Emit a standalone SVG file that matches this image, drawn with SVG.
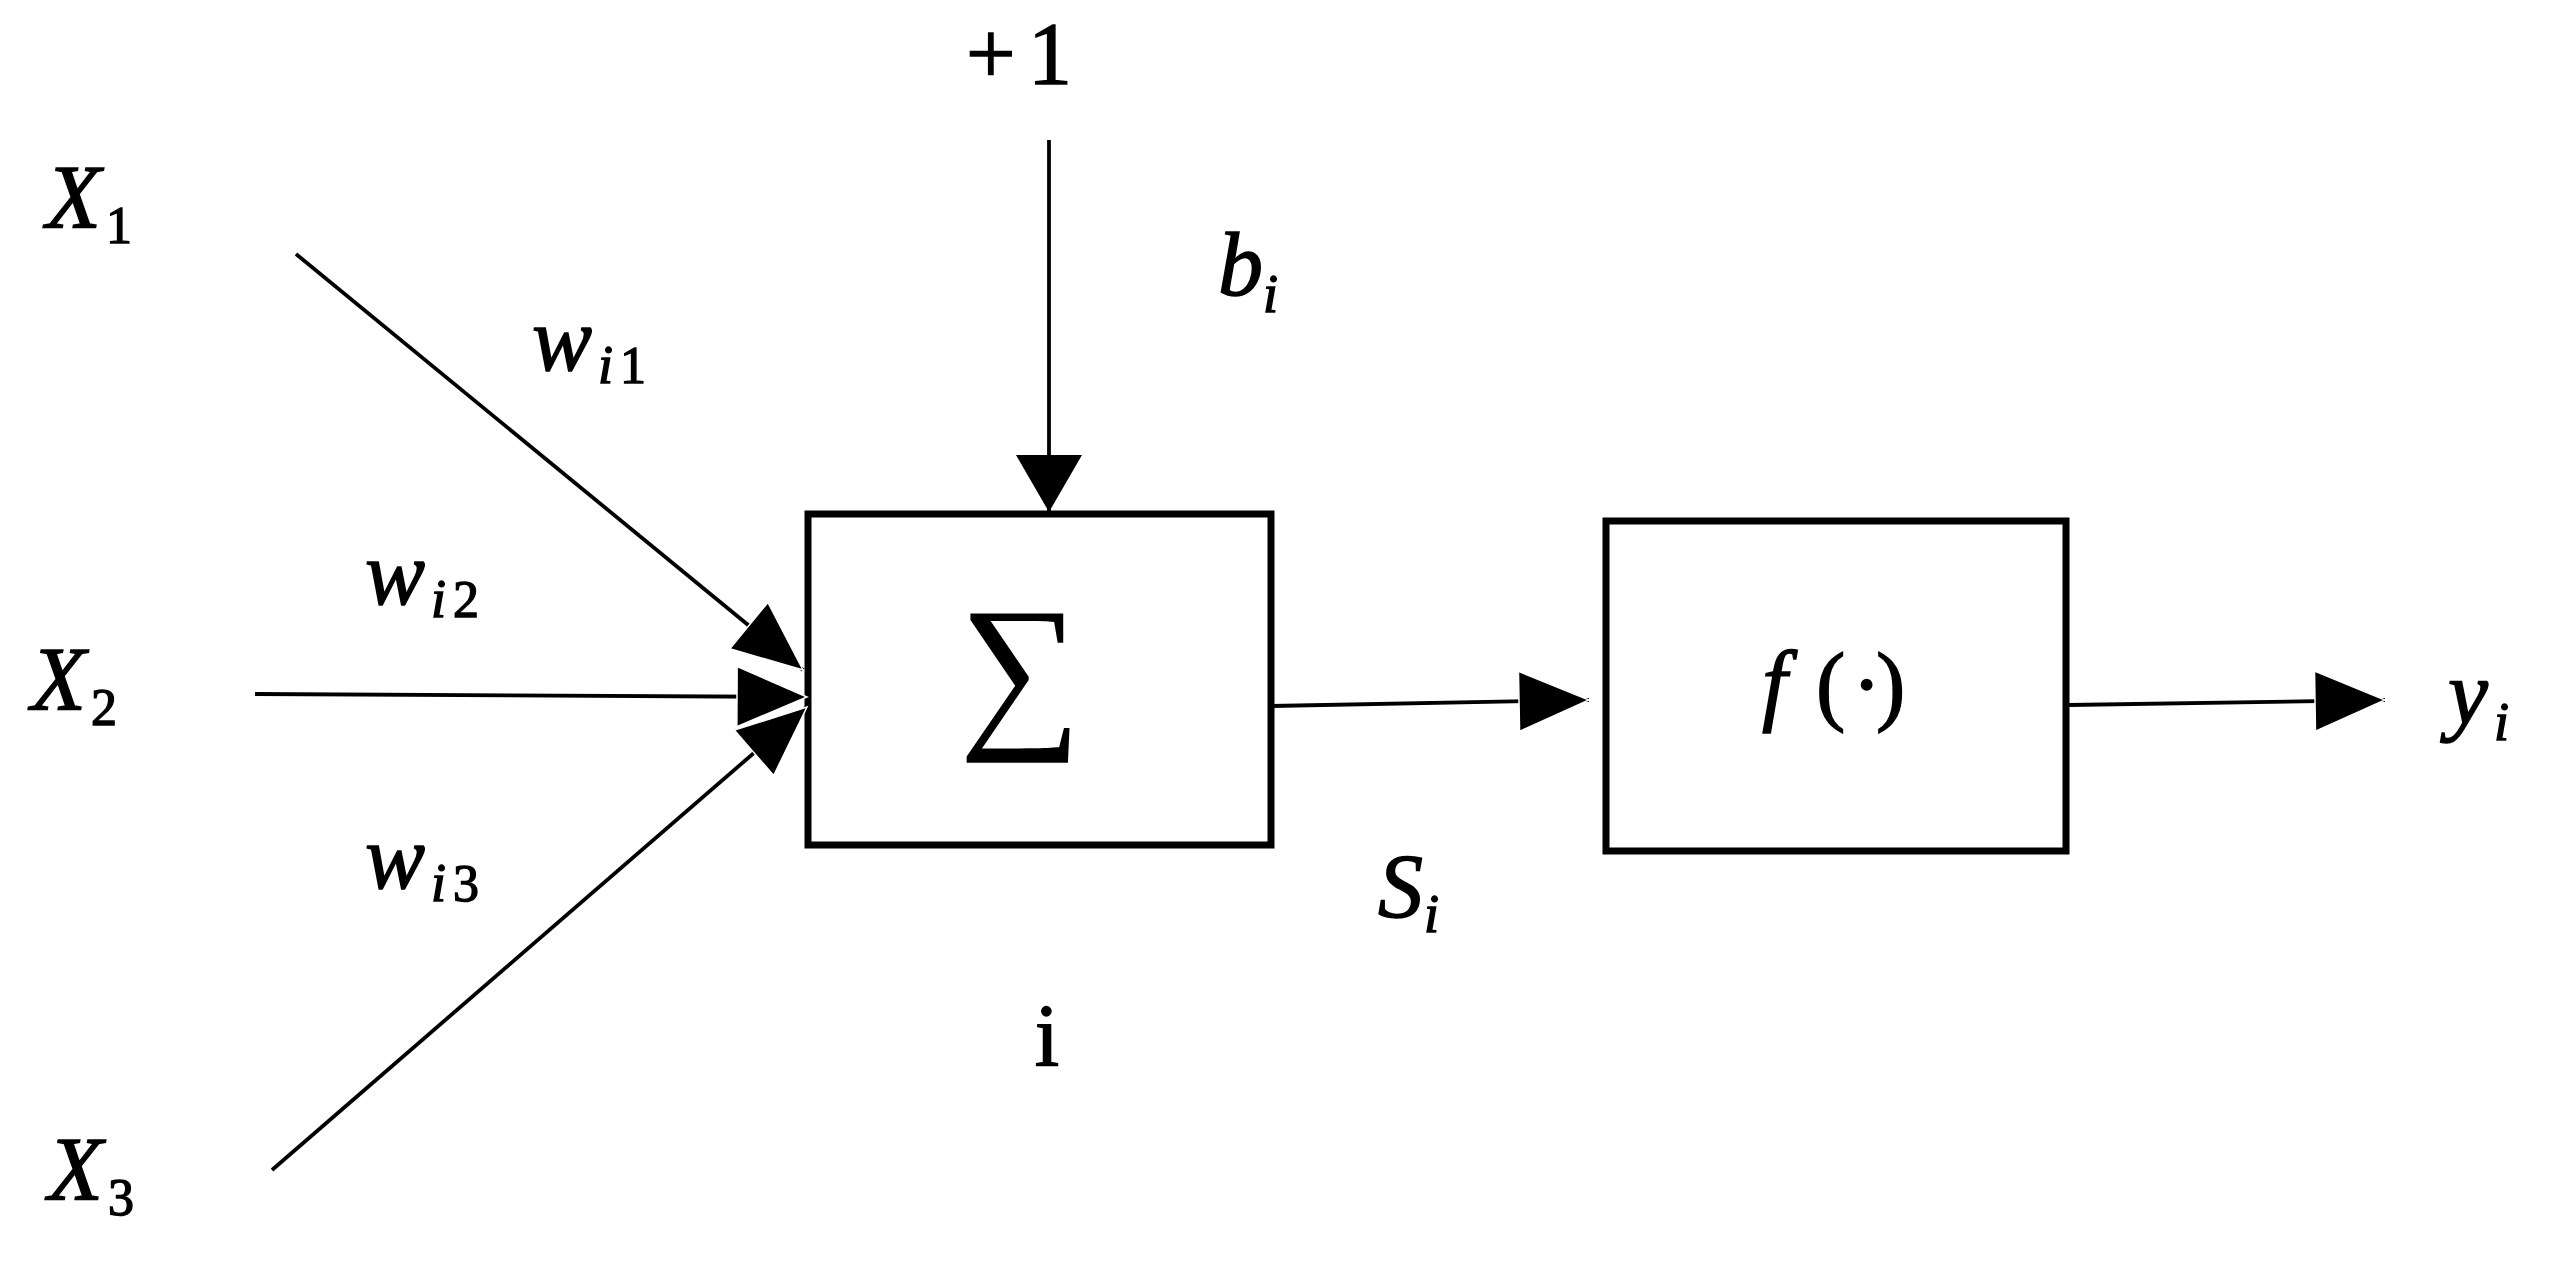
<svg xmlns="http://www.w3.org/2000/svg" width="2554" height="1263" viewBox="0 0 2554 1263">
<style>
text{font-family:"Liberation Serif","Times New Roman",serif;fill:#000;stroke:#000;stroke-width:1.4}
.m{font-style:italic;font-size:90px}
.s{font-style:italic;font-size:54px}
.su{font-style:normal;font-size:52px}
.u{font-style:normal;font-size:88px}
.sig{font-style:normal;font-size:172px;stroke-width:0}
.box{fill:#fff;stroke:#000;stroke-width:7}
.ln{stroke:#000;stroke-width:3.8;fill:none}
</style>
<defs>
<marker id="ah" markerUnits="userSpaceOnUse" markerWidth="74" markerHeight="64" refX="70" refY="30" orient="auto" overflow="visible">
<path d="M0,0 L70,30 L0,60 Z" fill="#000" stroke="#fff" stroke-width="1.5"/>
</marker>
<marker id="ahv" markerUnits="userSpaceOnUse" markerWidth="60" markerHeight="70" refX="57" refY="33" orient="auto" overflow="visible">
<path d="M0,0 L57,33 L0,66 Z" fill="#000"/>
</marker>
</defs>
<rect width="2554" height="1263" fill="#fff"/>
<g id="sum">
<rect class="box" x="808" y="514" width="463" height="331"/>
<text class="sig" x="1020" y="726" text-anchor="middle">∑</text>
</g>
<g id="act">
<rect class="box" x="1606" y="521" width="460" height="330"/>
<text class="m" x="1762" y="714">f</text>
<text class="u" y="714" x="1816 1852 1876">(·)</text>
</g>
<g id="connectors">
<line class="ln" x1="296" y1="254" x2="803" y2="670" marker-end="url(#ah)"/>
<line class="ln" x1="255" y1="694" x2="807" y2="697" marker-end="url(#ah)"/>
<line class="ln" x1="272" y1="1170" x2="807" y2="707" marker-end="url(#ah)"/>
<line class="ln" x1="1049" y1="140" x2="1049" y2="512" marker-end="url(#ahv)"/>
<line class="ln" x1="1271" y1="706" x2="1589" y2="700" marker-end="url(#ah)"/>
<line class="ln" x1="2069" y1="705" x2="2385" y2="700" marker-end="url(#ah)"/>
</g>
<g id="labels">
<text class="m" x="46" y="228">X<tspan class="su" x="106" y="243">1</tspan></text>
<text class="m" x="31" y="710">X<tspan class="su" x="91" y="725">2</tspan></text>
<text class="m" x="48" y="1200">X<tspan class="su" x="108" y="1215">3</tspan></text>
<text class="m" x="532" y="370">w<tspan class="s" x="598" y="383">i</tspan><tspan class="su" x="620" y="383">1</tspan></text>
<text class="m" x="365" y="604">w<tspan class="s" x="431" y="617">i</tspan><tspan class="su" x="453" y="617">2</tspan></text>
<text class="m" x="365" y="888">w<tspan class="s" x="431" y="901">i</tspan><tspan class="su" x="453" y="901">3</tspan></text>
<text class="u" x="966 1028" y="83">+1</text>
<text class="m" x="1218" y="295">b<tspan class="s" x="1263" y="312">i</tspan></text>
<text class="m" x="1378" y="917">S<tspan class="s" x="1424" y="932">i</tspan></text>
<text class="m" x="2448" y="724">y<tspan class="s" x="2494" y="740">i</tspan></text>
<text class="u" x="1047" y="1065" text-anchor="middle">i</text>
</g>
</svg>
